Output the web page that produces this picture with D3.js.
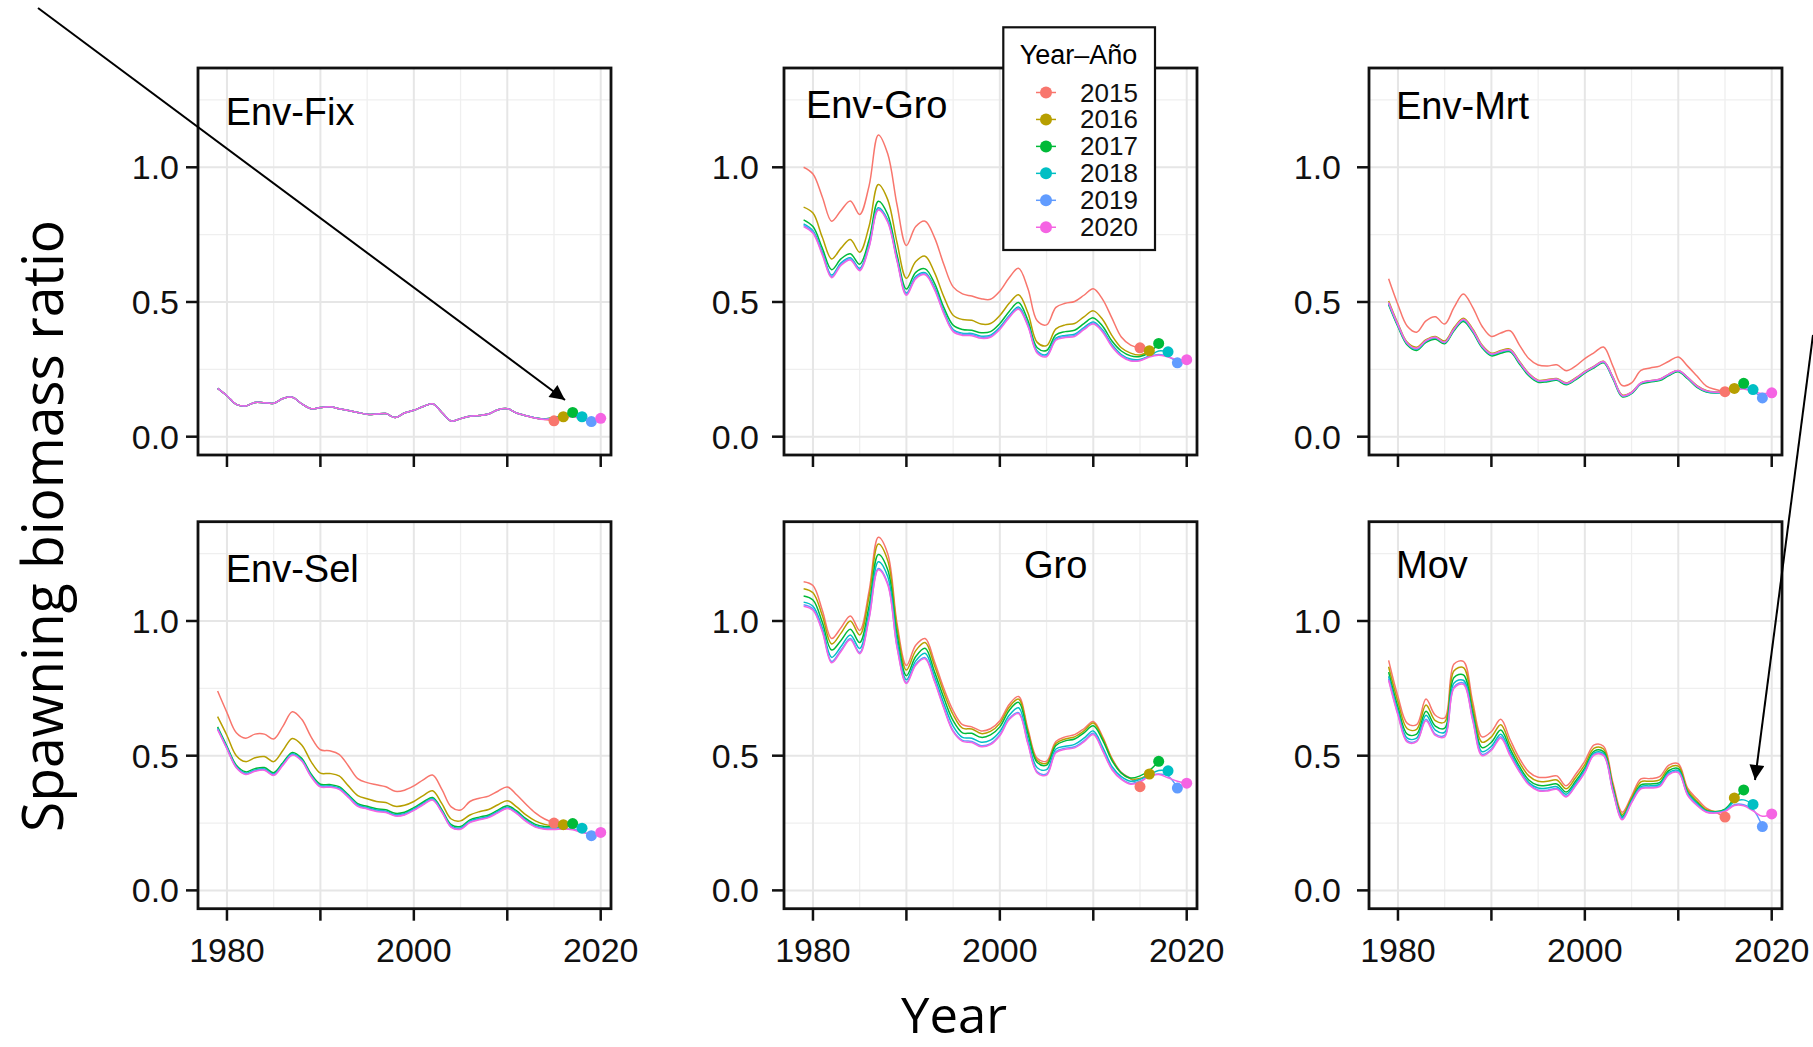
<!DOCTYPE html>
<html><head><meta charset="utf-8">
<script src="https://cdn.jsdelivr.net/npm/d3@7"></script>
<style>html,body{margin:0;padding:0;background:#fff;}svg{display:block;}</style>
</head><body>
<svg id="chart" width="1813" height="1047"></svg>
<script>
// ---------------- DATA ----------------
const firstYear = 1979;
const retroYears = [2015, 2016, 2017, 2018, 2019, 2020];
const retroColors = ["#F8766D", "#B79F00", "#00BA38", "#00BFC4", "#619CFF", "#F564E3"];
const panelNames = ["Env-Fix", "Env-Gro", "Env-Mrt", "Env-Sel", "Gro", "Mov"];
const xTickYears = [1980, 1990, 2000, 2010, 2020];
const xTickLabels = ["1980", "", "2000", "", "2020"];
const xMinorYears = [1985, 1995, 2005, 2015];
const yTickValues = [0, 0.5, 1.0];
const yTickLabels = ["0.0", "0.5", "1.0"];
const yMinorValues = [0.25, 0.75, 1.25];
const legendTitle = "Year\u2013A\u00f1o";
const xTitle = "Year";
const yTitle = "Spawning biomass ratio";

// each series: spawning biomass ratio from 1979 to its retrospective end year
const envFix = [
 [.179,.152,.120,.114,.127,.126,.124,.142,.146,.122, .104,.108,.111,.104,.097,.090,.083,.084,.086,.071, .088,.098,.112,.122,.090,.058,.067,.076,.079,.084, .100,.104,.088,.078,.069,.064,.059],
 [.179,.152,.120,.114,.127,.126,.124,.142,.146,.122, .104,.108,.111,.104,.097,.090,.083,.084,.086,.071, .088,.098,.112,.122,.090,.058,.067,.076,.079,.084, .100,.104,.088,.078,.069,.065,.068,.074],
 [.179,.152,.120,.114,.127,.126,.124,.142,.146,.122, .104,.108,.111,.104,.097,.090,.083,.084,.086,.071, .088,.098,.112,.122,.090,.058,.067,.076,.079,.084, .100,.104,.088,.078,.069,.066,.072,.080,.090],
 [.179,.152,.120,.114,.127,.126,.124,.142,.146,.122, .104,.108,.111,.104,.097,.090,.083,.084,.086,.071, .088,.098,.112,.122,.090,.058,.067,.076,.079,.084, .100,.104,.088,.078,.069,.065,.070,.078,.084,.074],
 [.179,.152,.120,.114,.127,.126,.124,.142,.146,.122, .104,.108,.111,.104,.097,.090,.083,.084,.086,.071, .088,.098,.112,.122,.090,.058,.067,.076,.079,.084, .100,.104,.088,.078,.069,.065,.069,.075,.078,.068,.056],
 [.179,.152,.120,.114,.127,.126,.124,.142,.146,.122, .104,.108,.111,.104,.097,.090,.083,.084,.086,.071, .088,.098,.112,.122,.090,.058,.067,.076,.079,.084, .100,.104,.088,.078,.069,.064,.068,.072,.074,.066,.062,.068]
];
const envGro = [
 [1.000,.975,.890,.800,.840,.875,.825,.930,1.120,1.050, .860,.710,.780,.800,.740,.640,.556,.530,.522,.512, .510,.540,.590,.625,.550,.430,.415,.480,.495,.502, .525,.549,.510,.440,.370,.340,.330],
 [.852,.830,.740,.660,.700,.732,.685,.780,.936,.880, .720,.588,.650,.670,.610,.520,.451,.435,.432,.418, .420,.450,.495,.527,.460,.350,.338,.400,.415,.420, .445,.467,.435,.375,.330,.310,.303,.319],
 [.805,.780,.700,.620,.660,.679,.640,.730,.874,.825, .675,.548,.610,.623,.570,.480,.414,.398,.395,.386, .390,.420,.465,.498,.432,.330,.320,.378,.390,.395, .420,.441,.410,.355,.318,.300,.298,.312,.346],
 [.790,.765,.685,.600,.645,.664,.625,.712,.850,.805, .660,.533,.595,.609,.555,.466,.398,.384,.383,.373, .377,.406,.450,.481,.418,.318,.305,.366,.376,.380, .405,.426,.396,.342,.305,.288,.287,.300,.318,.315],
 [.785,.760,.680,.595,.640,.660,.620,.706,.845,.800, .655,.529,.590,.605,.550,.461,.394,.380,.379,.369, .373,.402,.446,.477,.414,.314,.301,.362,.372,.376, .401,.422,.392,.338,.301,.284,.284,.298,.305,.298,.274],
 [.780,.755,.675,.590,.636,.656,.616,.702,.841,.796, .651,.525,.586,.601,.546,.457,.390,.376,.375,.365, .369,.398,.442,.473,.410,.310,.297,.358,.368,.372, .397,.418,.388,.334,.298,.281,.282,.296,.302,.296,.286,.286]
];
const envMrt = [
 [.586,.490,.410,.388,.430,.445,.418,.480,.530,.480, .410,.372,.385,.393,.340,.290,.266,.262,.267,.245, .262,.290,.312,.333,.262,.190,.200,.246,.255,.262, .280,.296,.262,.225,.188,.175,.167],
 [.504,.420,.350,.332,.360,.372,.355,.405,.440,.400, .340,.310,.320,.325,.280,.235,.210,.212,.216,.200, .218,.242,.262,.280,.222,.155,.165,.200,.208,.213, .232,.246,.220,.190,.172,.166,.167,.179],
 [.490,.408,.340,.320,.350,.362,.345,.393,.428,.388, .330,.300,.310,.315,.270,.226,.202,.204,.209,.193, .211,.236,.256,.274,.215,.148,.160,.195,.203,.208, .227,.241,.215,.183,.166,.162,.166,.180,.198],
 [.494,.412,.344,.324,.354,.366,.349,.397,.432,.392, .334,.304,.314,.319,.274,.230,.206,.208,.212,.196, .214,.239,.259,.277,.218,.151,.162,.198,.206,.211, .230,.244,.218,.186,.168,.163,.166,.180,.188,.175],
 [.496,.414,.346,.326,.356,.368,.350,.399,.434,.394, .336,.306,.316,.321,.276,.232,.207,.209,.213,.197, .215,.240,.260,.278,.219,.152,.163,.199,.207,.212, .231,.245,.219,.187,.169,.164,.166,.176,.180,.168,.144],
 [.498,.416,.347,.328,.357,.369,.351,.400,.436,.396, .337,.307,.317,.322,.277,.233,.208,.210,.214,.198, .216,.241,.261,.279,.220,.153,.164,.200,.208,.213, .232,.246,.220,.188,.170,.165,.166,.174,.177,.168,.160,.163]
];
const envSel = [
 [.740,.660,.585,.565,.580,.580,.562,.610,.663,.635, .570,.522,.518,.505,.462,.415,.400,.392,.385,.368, .372,.388,.410,.428,.375,.310,.298,.330,.342,.350, .368,.384,.355,.320,.288,.265,.250],
 [.645,.575,.500,.478,.492,.497,.478,.520,.564,.540, .478,.435,.434,.425,.388,.352,.340,.330,.326,.312, .316,.330,.352,.370,.322,.265,.258,.280,.292,.300, .318,.333,.310,.280,.258,.245,.240,.244],
 [.607,.535,.465,.440,.452,.456,.437,.475,.512,.490, .432,.394,.393,.385,.355,.322,.312,.303,.299,.286, .290,.307,.328,.345,.300,.244,.237,.262,.272,.280, .298,.314,.295,.266,.245,.237,.237,.240,.248],
 [.602,.530,.460,.435,.447,.451,.432,.470,.507,.485, .427,.389,.388,.380,.350,.317,.307,.298,.294,.281, .285,.302,.323,.340,.295,.239,.232,.257,.267,.275, .293,.309,.290,.261,.240,.232,.232,.236,.240,.231],
 [.599,.527,.457,.432,.444,.448,.429,.467,.504,.482, .424,.386,.385,.377,.347,.314,.304,.295,.291,.278, .282,.299,.320,.337,.292,.236,.229,.254,.264,.272, .290,.306,.287,.258,.237,.229,.228,.230,.228,.218,.203],
 [.597,.525,.455,.430,.442,.446,.427,.465,.502,.480, .422,.384,.383,.375,.345,.312,.302,.293,.289,.276, .280,.297,.318,.335,.290,.234,.227,.252,.262,.270, .288,.304,.285,.256,.235,.227,.226,.228,.225,.215,.210,.215]
];
const gro = [
 [1.146,1.132,1.040,.935,.975,1.019,.965,1.110,1.311,1.250, .990,.835,.910,.935,.850,.750,.667,.615,.607,.592, .600,.630,.690,.720,.600,.490,.480,.553,.570,.578, .600,.627,.570,.490,.438,.415,.385],
 [1.120,1.105,1.020,.915,.955,1.000,.948,1.090,1.286,1.225, .975,.818,.890,.920,.835,.735,.652,.602,.599,.582, .590,.620,.680,.710,.592,.482,.472,.545,.562,.570, .592,.621,.565,.487,.435,.414,.415,.432],
 [1.093,1.078,.995,.892,.928,.969,.920,1.055,1.247,1.190, .950,.797,.868,.899,.812,.715,.630,.585,.583,.568, .577,.607,.668,.698,.582,.475,.465,.538,.555,.562, .585,.611,.558,.482,.436,.417,.425,.445,.479],
 [1.070,1.055,.975,.865,.905,.948,.898,1.030,1.220,1.165, .925,.782,.852,.880,.795,.695,.610,.568,.565,.550, .558,.590,.650,.678,.562,.455,.448,.525,.535,.542, .565,.592,.532,.460,.422,.405,.412,.430,.445,.444],
 [1.060,1.045,.965,.850,.892,.935,.883,1.012,1.195,1.140, .905,.772,.840,.864,.780,.680,.593,.557,.553,.537, .545,.578,.638,.660,.548,.440,.432,.515,.528,.533, .555,.583,.522,.452,.415,.397,.405,.426,.432,.425,.380],
 [1.055,1.040,.960,.845,.887,.930,.878,1.007,1.190,1.135, .900,.768,.836,.860,.776,.676,.589,.553,.549,.533, .541,.574,.634,.656,.544,.436,.428,.511,.524,.529, .551,.579,.518,.448,.412,.394,.402,.424,.430,.418,.405,.398]
];
const mov = [
 [.854,.720,.620,.615,.710,.650,.640,.840,.850,.700, .570,.590,.635,.560,.490,.440,.420,.420,.425,.388, .430,.480,.540,.535,.400,.290,.350,.414,.415,.422, .465,.470,.380,.340,.305,.290,.272],
 [.830,.700,.600,.598,.688,.630,.625,.815,.827,.680, .550,.570,.615,.542,.475,.425,.405,.405,.410,.377, .418,.467,.528,.525,.390,.282,.343,.403,.405,.410, .455,.461,.372,.332,.300,.293,.300,.343],
 [.810,.680,.580,.580,.665,.610,.602,.790,.800,.660, .530,.550,.595,.525,.460,.410,.390,.390,.395,.365, .405,.455,.517,.515,.382,.275,.336,.392,.395,.400, .445,.452,.365,.326,.296,.292,.302,.340,.373],
 [.795,.665,.565,.565,.650,.595,.587,.770,.780,.645, .515,.535,.580,.513,.450,.400,.380,.380,.385,.357, .397,.447,.510,.508,.375,.270,.332,.385,.388,.393, .438,.445,.360,.322,.294,.290,.298,.330,.336,.319],
 [.785,.655,.555,.555,.635,.580,.575,.755,.770,.635, .505,.525,.570,.505,.443,.395,.373,.372,.378,.350, .390,.440,.505,.503,.370,.265,.328,.380,.383,.388, .433,.440,.356,.318,.292,.288,.295,.318,.318,.300,.237],
 [.780,.650,.550,.552,.630,.575,.570,.750,.765,.630, .500,.520,.565,.500,.440,.392,.370,.369,.375,.347, .387,.437,.502,.500,.367,.262,.325,.377,.380,.385, .430,.437,.353,.315,.290,.287,.293,.315,.314,.295,.275,.284]
];
const panelData = [envFix, envGro, envMrt, envSel, gro, mov];

// ---------------- LAYOUT ----------------
const svg = d3.select("#chart");
const colX = [198, 784, 1369];
const rowY = [68, 521.7];
const PW = 413, PH = 387;
const yLabelGap = [19, 25, 28];
const titleOffsets = [[27.7, 57], [22, 50], [27, 51], [27.7, 60], [240, 56.6], [27, 56.6]];
const FONT = "'Liberation Sans', Arial, Helvetica, sans-serif";

// arrow marker
const defs = svg.append("defs");
defs.append("marker").attr("id", "arrowhead")
  .attr("viewBox", "0 0 10 10").attr("refX", 10).attr("refY", 5)
  .attr("markerWidth", 20).attr("markerHeight", 15)
  .attr("markerUnits", "userSpaceOnUse").attr("orient", "auto")
  .append("path").attr("d", "M0,0 L10,5 L0,10 z").attr("fill", "#000");

panelNames.forEach((name, p) => {
  const col = p % 3, row = Math.floor(p / 3);
  const x0 = colX[col], y0 = rowY[row];
  const x = d3.scaleLinear().domain([1976.9, 2021.1]).range([x0, x0 + PW]);
  const y = d3.scaleLinear().domain([-0.068, 1.3686]).range([y0 + PH, y0]);
  const g = svg.append("g");

  g.append("rect").attr("x", x0).attr("y", y0).attr("width", PW).attr("height", PH).attr("fill", "#fff");
  g.selectAll(".vminor").data(xMinorYears).join("line")
    .attr("x1", d => x(d)).attr("x2", d => x(d)).attr("y1", y0).attr("y2", y0 + PH)
    .attr("stroke", "#efefef").attr("stroke-width", 1.3);
  g.selectAll(".hminor").data(yMinorValues).join("line")
    .attr("y1", d => y(d)).attr("y2", d => y(d)).attr("x1", x0).attr("x2", x0 + PW)
    .attr("stroke", "#efefef").attr("stroke-width", 1.3);
  g.selectAll(".vmajor").data(xTickYears).join("line")
    .attr("x1", d => x(d)).attr("x2", d => x(d)).attr("y1", y0).attr("y2", y0 + PH)
    .attr("stroke", "#e6e6e6").attr("stroke-width", 2);
  g.selectAll(".hmajor").data(yTickValues).join("line")
    .attr("y1", d => y(d)).attr("y2", d => y(d)).attr("x1", x0).attr("x2", x0 + PW)
    .attr("stroke", "#e6e6e6").attr("stroke-width", 2);

  const series = panelData[p].map((vals, i) => ({
    color: retroColors[i],
    pts: vals.map((v, k) => ({ yr: firstYear + k, v }))
  }));
  const line = d3.line().x(d => x(d.yr)).y(d => y(d.v)).curve(d3.curveCatmullRom.alpha(0.5));
  const clipId = "clip" + p;
  defs.append("clipPath").attr("id", clipId).append("rect")
    .attr("x", x0).attr("y", y0).attr("width", PW).attr("height", PH);
  const plot = g.append("g").attr("clip-path", `url(#${clipId})`);
  plot.selectAll(".series").data(series).join("path")
    .attr("d", d => line(d.pts)).attr("fill", "none")
    .attr("stroke", d => d.color).attr("stroke-width", 1.5).attr("stroke-linejoin", "round");
  plot.selectAll(".endpt").data(series).join("circle")
    .attr("cx", d => x(d.pts[d.pts.length - 1].yr))
    .attr("cy", d => y(d.pts[d.pts.length - 1].v))
    .attr("r", 5.5).attr("fill", d => d.color);

  g.append("rect").attr("x", x0).attr("y", y0).attr("width", PW).attr("height", PH)
    .attr("fill", "none").attr("stroke", "#111").attr("stroke-width", 2.8);

  g.selectAll(".ytick").data(yTickValues).join("line")
    .attr("x1", x0 - 12).attr("x2", x0).attr("y1", d => y(d)).attr("y2", d => y(d))
    .attr("stroke", "#111").attr("stroke-width", 2.5);
  g.selectAll(".ylab").data(yTickValues).join("text")
    .attr("x", x0 - yLabelGap[col]).attr("y", d => y(d))
    .attr("text-anchor", "end").attr("dominant-baseline", "central")
    .attr("font-family", FONT).attr("font-size", 34).attr("fill", "#111")
    .text((d, i) => yTickLabels[i]);
  g.selectAll(".xtick").data(xTickYears).join("line")
    .attr("x1", d => x(d)).attr("x2", d => x(d)).attr("y1", y0 + PH).attr("y2", y0 + PH + 12)
    .attr("stroke", "#111").attr("stroke-width", 2.5);
  if (row === 1) {
    g.selectAll(".xlab").data(xTickYears).join("text")
      .attr("x", d => x(d)).attr("y", y0 + PH + 53)
      .attr("text-anchor", "middle")
      .attr("font-family", FONT).attr("font-size", 34).attr("fill", "#111")
      .text((d, i) => xTickLabels[i]);
  }
  g.append("text").attr("x", x0 + titleOffsets[p][0]).attr("y", y0 + titleOffsets[p][1])
    .attr("font-family", FONT).attr("font-size", 38).attr("fill", "#000").text(name);
});

// legend
const lg = svg.append("g");
lg.append("rect").attr("x", 1003.3).attr("y", 27.3).attr("width", 151.7).attr("height", 222.7)
  .attr("fill", "#fff").attr("stroke", "#111").attr("stroke-width", 2.2);
lg.append("text").attr("x", 1078.5).attr("y", 63.5).attr("text-anchor", "middle")
  .attr("font-family", FONT).attr("font-size", 27).attr("fill", "#000").text(legendTitle);
const items = lg.selectAll(".item").data(retroYears).join("g")
  .attr("transform", (d, i) => `translate(1046, ${92.5 + i * 26.95})`);
items.append("line").attr("x1", -10).attr("x2", 10).attr("y1", 0).attr("y2", 0)
  .attr("stroke", (d, i) => retroColors[i]).attr("stroke-width", 1.5);
items.append("circle").attr("r", 6).attr("fill", (d, i) => retroColors[i]);
items.append("text").attr("x", 34).attr("y", 0).attr("dominant-baseline", "central")
  .attr("font-family", FONT).attr("font-size", 26).attr("fill", "#111").text(d => d);

// axis titles
svg.append("text").attr("transform", "translate(63,526) rotate(-90)")
  .attr("text-anchor", "middle").attr("font-family", "'Open Sans', 'Noto Sans', sans-serif")
  .attr("font-size", 57).attr("textLength", 612).attr("lengthAdjust", "spacingAndGlyphs")
  .attr("fill", "#000").text(yTitle);
svg.append("text").attr("x", 954).attr("y", 1033)
  .attr("text-anchor", "middle").attr("font-family", "'Open Sans', 'Noto Sans', sans-serif")
  .attr("font-size", 50).attr("textLength", 106).attr("lengthAdjust", "spacingAndGlyphs")
  .attr("fill", "#000").text(xTitle);

// annotation arrows
svg.append("line").attr("x1", 38).attr("y1", 8).attr("x2", 565).attr("y2", 400)
  .attr("stroke", "#000").attr("stroke-width", 2).attr("marker-end", "url(#arrowhead)");
svg.append("line").attr("x1", 1813).attr("y1", 335).attr("x2", 1755).attr("y2", 780)
  .attr("stroke", "#000").attr("stroke-width", 2).attr("marker-end", "url(#arrowhead)");
</script>
</body></html>
